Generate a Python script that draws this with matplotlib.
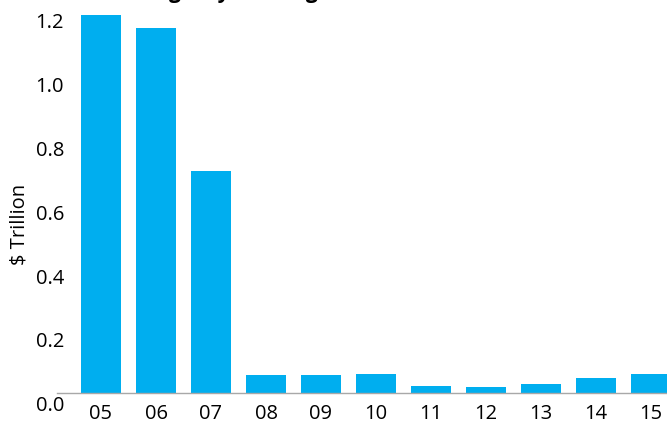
import matplotlib
matplotlib.use("Agg")
import matplotlib.pyplot as plt
import matplotlib.transforms as mtransforms

years = ["05", "06", "07", "08", "09", "10", "11", "12", "13", "14", "15"]
issuance = [1.183, 1.142, 0.695, 0.057, 0.057, 0.060, 0.023, 0.021, 0.029, 0.048, 0.060]
yticks = [0.0, 0.2, 0.4, 0.6, 0.8, 1.0, 1.2]
title = "Non-agency Lending"

plt.rcParams["font.family"] = ["Open Sans", "DejaVu Sans"]
BLUE = "#00AEEF"
FS = 14.5

fig = plt.figure(figsize=(6.67, 4.24), dpi=100)
W, H = 667, 424
# axes spans x 57..695 px (right side runs off the canvas), y baseline at 393
ax = fig.add_axes([57 / W, (H - 393.3) / H, (695 - 57) / W, (393.3 - 9.9) / H])

x = range(len(years))
ax.bar(x, issuance, width=0.727, color=BLUE, zorder=2)
ax.set_xlim(-0.8, 10.8)
ax.set_ylim(0, 1.2)

ax.set_xticks(list(x))
ax.set_xticklabels(years, fontsize=FS)
ax.set_yticks(yticks)
ax.set_yticklabels([f"{v:.1f}" for v in yticks], fontsize=FS)
ax.tick_params(axis="both", length=0)
ax.tick_params(axis="x", pad=8)
ax.tick_params(axis="y", pad=-5)
# y labels sit a little below their gridline positions in the original
off = mtransforms.ScaledTranslation(0, -10.5 / 100, fig.dpi_scale_trans)
for lbl in ax.get_yticklabels():
    lbl.set_transform(lbl.get_transform() + off)

for s in ("top", "right", "left"):
    ax.spines[s].set_visible(False)
ax.spines["bottom"].set_color("#a8a8a8")
ax.spines["bottom"].set_linestyle((0, (1, 1)))
ax.spines["bottom"].set_linewidth(1.0)

fig.text(19 / W, 1 - 224 / H, "$ Trillion", rotation=90, fontsize=FS,
         ha="center", va="center")
fig.text(106 / W, 1 + 2 / H, title, fontsize=15, fontweight="bold",
         ha="left", va="baseline")

fig.savefig("out.png", dpi=100)
